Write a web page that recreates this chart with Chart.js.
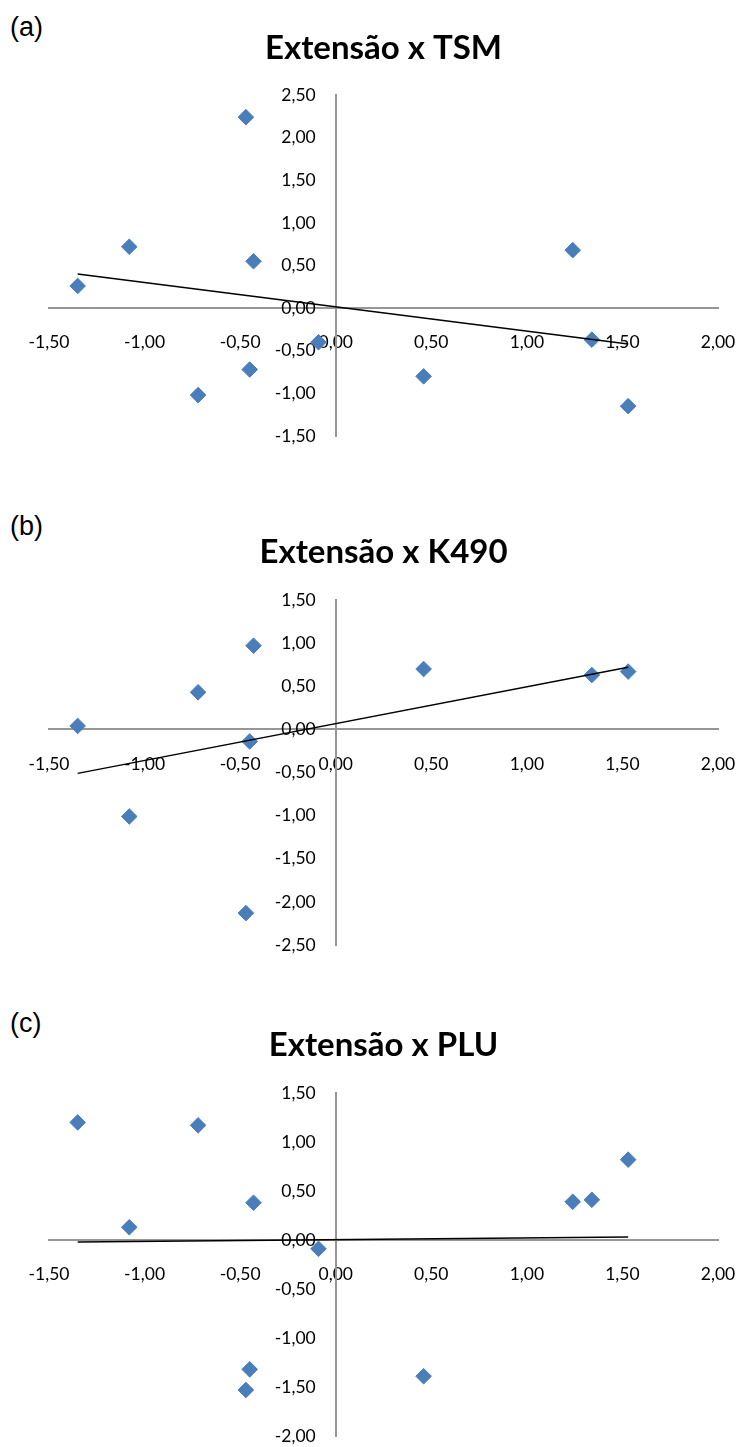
<!DOCTYPE html>
<html><head><meta charset="utf-8">
<script src="https://cdn.jsdelivr.net/npm/chart.js@4.4.1/dist/chart.umd.min.js"></script>
<style>
html,body{margin:0;padding:0;background:#fff;}
body{width:745px;height:1447px;position:relative;overflow:hidden;}
.panel{position:absolute;left:0;width:745px;}
.tag{position:absolute;left:10px;font-family:"Liberation Sans",Arial,sans-serif;font-size:27px;line-height:30px;color:#000;}
</style></head><body>
<div class="tag" style="top:12px">(a)</div>
<div class="tag" style="top:511px">(b)</div>
<div class="tag" style="top:1008px">(c)</div>
<div class="panel" style="top:0px;height:470px"><canvas id="cA"></canvas></div>
<div class="panel" style="top:504px;height:475px"><canvas id="cB"></canvas></div>
<div class="panel" style="top:997px;height:450px"><canvas id="cC"></canvas></div>
<script>
// Extensão anomalies (x), shared by the three panels
const extensao = [-1.35, -1.08, -0.72, -0.47, -0.45, -0.43, -0.09, 0.46, 1.24, 1.34, 1.53];
// panel series (y)
const tsm  = [0.26, 0.72, -1.02, 2.24, -0.72, 0.55, -0.40, -0.80, 0.68, -0.37, -1.15];
const k490 = [0.04, -1.01, 0.43, -2.13, -0.14, 0.97, null, 0.70, null, 0.63, 0.67];
const plu  = [1.20, 0.13, 1.17, -1.53, -1.32, 0.38, -0.09, -1.39, 0.39, 0.41, 0.82];
// linear trend lines (endpoints)
const trendX = [-1.35, 1.53];
const trendTSM  = [0.40, -0.42];
const trendK490 = [-0.51, 0.72];
const trendPLU  = [-0.02, 0.03];
// axis ranges / ticks
const xRange = [-1.5, 2.0];
const yRangeTSM = [-1.5, 2.5];
const yRangeK490 = [-2.5, 1.5];
const yRangePLU = [-2.0, 1.5];
const tickStep = 0.5;
const titles = ['Extensão x TSM', 'Extensão x K490', 'Extensão x PLU'];

// Linear scale whose labels keep their padding when the axis crosses at a value
class CrossLinear extends Chart.LinearScale {
  _computeLabelItems(chartArea) {
    const items = super._computeLabelItems(chartArea);
    if (!this.isHorizontal() && typeof this.options.position === 'object') {
      const pad = this.options.ticks.padding || 0;
      items.forEach(it => { it.options.translation[0] -= pad; });
    }
    return items;
  }
}
CrossLinear.id = 'crossLinear';
CrossLinear.defaults = Chart.LinearScale.defaults;
Chart.register(CrossLinear);

const fmt = v => Number(v).toFixed(2).replace('.', ',');
const tickFont = {family: 'Lato', size: 17.5};
const axisColor = '#969696';

// crossing axes take no room in the layout: the plot area is set by layout padding only
function noRoom(scale) {
  if (scale.isHorizontal()) scale.height = 0; else scale.width = 0;
  scale.paddingLeft = scale.paddingRight = scale.paddingTop = scale.paddingBottom = 0;
}

function pts(xs, ys) {
  const out = [];
  for (let i = 0; i < xs.length; i++) if (ys[i] !== null) out.push({x: xs[i], y: ys[i]});
  return out;
}

function makeChart(id, title, ys, trendY, yRange, lay) {
  const titleSize = 33, lh = 1.2;
  const padTop = 48 - titleSize * lh / 2;
  const padBottom = lay.areaTop - padTop - titleSize * lh;
  new Chart(document.getElementById(id), {
    type: 'scatter',
    data: {
      datasets: [
        {
          data: pts(trendX, trendY),
          showLine: true,
          borderColor: '#000',
          borderWidth: 1.5,
          pointRadius: 0,
          order: 0
        },
        {
          data: pts(extensao, ys),
          pointStyle: 'rectRot',
          pointRadius: 7.8,
          backgroundColor: '#4a7ebb',
          borderColor: '#4a7ebb',
          borderWidth: 1,
          order: 1
        }
      ]
    },
    options: {
      responsive: true,
      maintainAspectRatio: false,
      animation: false,
      layout: {padding: {left: 49, right: 27, top: 0, bottom: lay.bottomPad}},
      plugins: {
        legend: {display: false},
        tooltip: {enabled: false},
        title: {
          display: true,
          text: title,
          color: '#000',
          font: {family: 'Lato', size: titleSize, weight: 'bold', lineHeight: lh},
          padding: {top: padTop, bottom: padBottom}
        }
      },
      scales: {
        x: {
          type: 'crossLinear',
          min: xRange[0], max: xRange[1],
          position: {y: 0},
          z: 1,
          afterFit: noRoom,
          grid: {display: false, drawTicks: false},
          border: {display: true, color: axisColor, width: 2},
          ticks: {stepSize: tickStep, callback: fmt, font: tickFont, color: '#000', padding: 24, autoSkip: false, maxRotation: 0}
        },
        y: {
          type: 'crossLinear',
          min: yRange[0], max: yRange[1],
          position: {x: 0},
          z: 1,
          afterFit: noRoom,
          grid: {display: false, drawTicks: false},
          border: {display: true, color: axisColor, width: 2},
          ticks: {stepSize: tickStep, callback: fmt, font: tickFont, color: '#000', padding: 20, autoSkip: false}
        }
      }
    }
  });
}

makeChart('cA', titles[0], tsm, trendTSM, yRangeTSM, {areaTop: 95, bottomPad: 470 - 436});
makeChart('cB', titles[1], k490, trendK490, yRangeK490, {areaTop: 96, bottomPad: 475 - 441});
makeChart('cC', titles[2], plu, trendPLU, yRangePLU, {areaTop: 96, bottomPad: 450 - 439});
</script>
</body></html>
